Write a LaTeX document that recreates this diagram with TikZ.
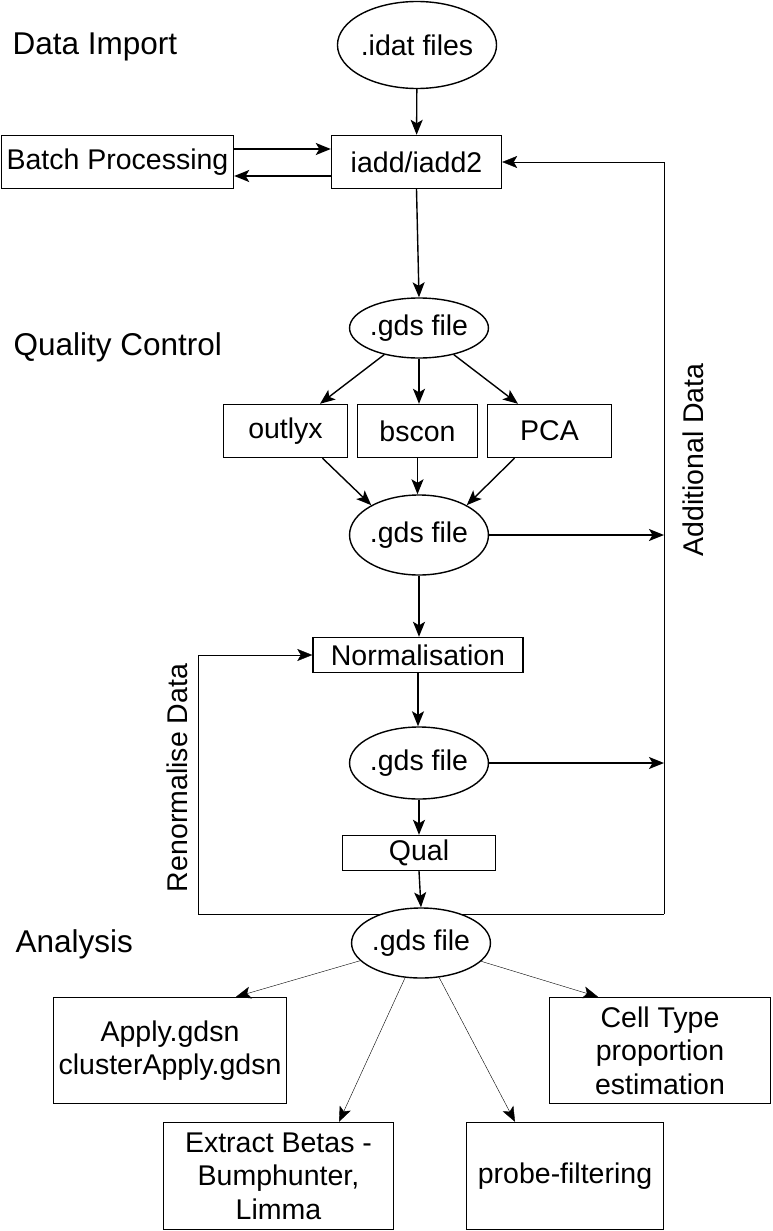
\documentclass[tikz,border=0pt]{standalone}
\usepackage{fontspec}
\setmainfont{Liberation Sans}
\usetikzlibrary{arrows.meta,shapes.geometric}
\pgfdeclarelayer{bg}
\pgfsetlayers{bg,main}
\tikzset{
  lbl/.style={font=\fontsize{28.5}{33.5}\selectfont, align=center},
  sect/.style={font=\fontsize{31.5}{36}\selectfont, inner sep=0pt},
  boxn/.style={lbl, draw, rectangle, inner sep=0pt, fill=white},
  ell/.style={lbl, draw, ellipse, inner sep=0pt, fill=white},
  arr/.style={-{Stealth[length=15pt,width=12pt,inset=3.5pt]}},
}
\begin{document}
\begin{tikzpicture}[x=1pt,y=-1pt,line width=1.4pt]
\useasboundingbox (0,0) rectangle (773,1231);

% section titles
\node[sect, anchor=base west] (t1) at (12,55) {Data Import};
\node[sect, anchor=base west] (t2) at (13,355) {Quality Control};
\node[sect, anchor=base west] (t3) at (15,952) {Analysis};

% nodes
\node[ell, minimum width=149pt, minimum height=87pt] (idat) at (417,45) {.idat files};
\node[boxn, minimum width=170pt, minimum height=53pt] (iadd) at (416.5,162) {iadd/iadd2};
\node[boxn, minimum width=232pt, minimum height=53pt] (batch) at (117.5,162) {Batch Processing};
\node[ell, minimum width=121pt, minimum height=60pt] (gds1) at (419,328) {.gds file};
\node[boxn, minimum width=124pt, minimum height=53pt] (outlyx) at (285.5,431) {outlyx};
\node[boxn, minimum width=120pt, minimum height=53pt] (bscon) at (417.5,431) {bscon};
\node[boxn, minimum width=124pt, minimum height=53pt] (pca) at (549.5,431) {PCA};
\node[ell, minimum width=121pt, minimum height=80pt] (gds2) at (419,535) {.gds file};
\node[boxn, minimum width=210pt, minimum height=35pt] (norm) at (418,655) {Normalisation};
\node[ell, minimum width=120pt, minimum height=72pt] (gds3) at (419,763) {.gds file};
\node[boxn, minimum width=153pt, minimum height=35pt] (qual) at (419,853) {Qual};
\node[ell, minimum width=127pt, minimum height=70pt] (gds4) at (421,943) {.gds file};
\node[boxn, minimum width=233pt, minimum height=106pt] (apply) at (170,1050.5) {Apply.gdsn\\clusterApply.gdsn};
\node[boxn, minimum width=221pt, minimum height=106pt] (cell) at (660,1050.5) {Cell Type\\proportion\\estimation};
\node[boxn, minimum width=230pt, minimum height=107pt] (extract) at (278.5,1176) {Extract Betas -\\Bumphunter,\\Limma};
\node[boxn, minimum width=197pt, minimum height=107pt] (probe) at (565,1176) {probe-filtering};

% side labels
\node[lbl, rotate=90, inner sep=0pt] (addl) at (693,460) {Additional Data};
\node[lbl, rotate=90, inner sep=0pt] (renl) at (177,778) {Renormalise Data};

% loop coordinates
\coordinate (tr) at (664,162);
\coordinate (br) at (664,914);
\coordinate (bl) at (198,914);
\coordinate (tl) at (198,655);

% connectors
\draw[arr] (idat) -- (iadd);
\draw[arr] ([yshift=13pt]batch.east) -- ([yshift=13pt]iadd.west);
\draw[arr] ([yshift=-14pt]iadd.west) -- ([yshift=-14pt]batch.east);
\draw[arr] (iadd.south) -- (gds1.north);
\draw[arr] (gds1) -- ([xshift=34.5pt]outlyx.north);
\draw[arr] (gds1.south) -- (gds1.south |- bscon.north);
\draw[arr] (gds1) -- ([xshift=-31.5pt]pca.north);
\draw[arr] ([xshift=37pt]outlyx.south) -- (gds2.148);
\draw[arr] (bscon.south) -- (bscon.south |- gds2.north);
\draw[arr] ([xshift=-35pt]pca.south) -- (gds2.32);
\draw[arr] (gds2.south) -- (gds2.south |- norm.north);
\draw[arr] (gds2.east) -- (gds2.east -| br);
\draw[arr] (norm.south) -- (norm.south |- gds3.north);
\draw[arr] (gds3.east) -- (gds3.east -| br);
\draw[arr] (gds3.south) -- (gds3.south |- qual.north);
\draw[arr] (qual.south) -- (gds4.north);
\begin{pgfonlayer}{bg}
\draw (bl) -- (br);
\end{pgfonlayer}
\draw[arr] (bl) -- (tl) -- (norm.west);
\draw[arr] (br) -- (tr) -- (iadd.east);
\draw[arr] (gds4) -- ([xshift=66pt]apply.north);
\draw[arr] (gds4) -- ([xshift=60.5pt]extract.north);
\draw[arr] (gds4) -- ([xshift=-50pt]probe.north);
\draw[arr] (gds4) -- ([xshift=-62pt]cell.north);
\end{tikzpicture}
\end{document}
